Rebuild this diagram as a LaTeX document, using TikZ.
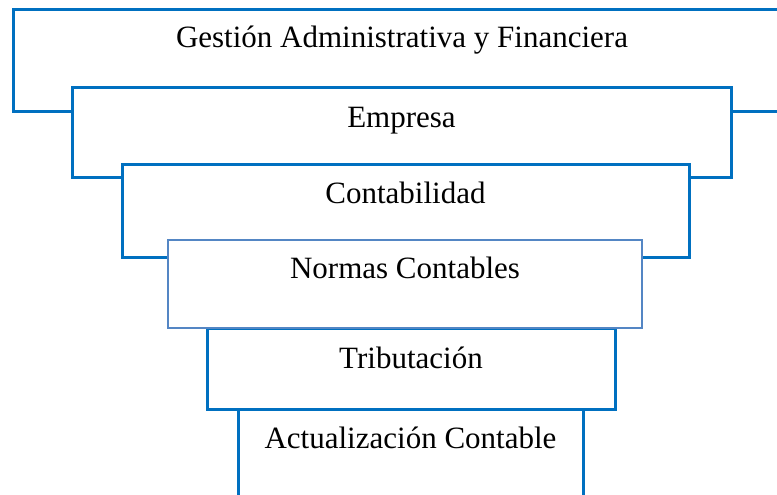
\documentclass[tikz,border=0pt]{standalone}
\usepackage{fontspec}
\setmainfont{Liberation Serif}
\definecolor{boxblue}{RGB}{0,112,192}
\definecolor{softblue}{RGB}{84,134,196}

\begin{document}
\begin{tikzpicture}[x = 1pt, y = -1pt,
    level/.style = {shape = rectangle, draw = boxblue, fill = white, line width = 3pt,
        inner sep = 0pt, outer sep = 0pt},
    softlevel/.style = {level, draw = softblue, line width = 2pt},
    lbl/.style = {anchor = base, inner sep = 0pt, font = \fontsize{31}{36}\selectfont}]
    \useasboundingbox (0,0) rectangle (777,495);
    \clip (0,0) rectangle (777,495);
        % funnel levels, widest first
        \node[level, minimum width = 778pt, minimum height = 101pt] (g) at (402,60.5) {};
        \node[level, minimum width = 659pt, minimum height = 89pt] (e) at (401.5,132.5) {};
        \node[level, minimum width = 567pt, minimum height = 93pt] (c) at (405.5,210.5) {};
        \node[level, minimum width = 345pt, minimum height = 121pt] (a) at (410.5,469.5) {};
        \node[level, minimum width = 408pt, minimum height = 81pt] (t) at (411,368.5) {};
        \node[softlevel, minimum width = 474pt, minimum height = 88pt] (n) at (405,284) {};
        % texts
        \node[lbl] (gtext) at ([yshift = -38pt]g.north) {Gestión Administrativa y Financiera};
        \node[lbl] (etext) at ([yshift = -40pt]e.north) {Empresa};
        \node[lbl] (ctext) at ([yshift = -39pt]c.north) {Contabilidad};
        \node[lbl] (ntext) at ([yshift = -38pt]n.north) {Normas Contables};
        \node[lbl] (ttext) at ([yshift = -40pt]t.north) {Tributación};
        \node[lbl] (atext) at ([yshift = -39pt]a.north) {Actualización Contable};
\end{tikzpicture}
\end{document}
